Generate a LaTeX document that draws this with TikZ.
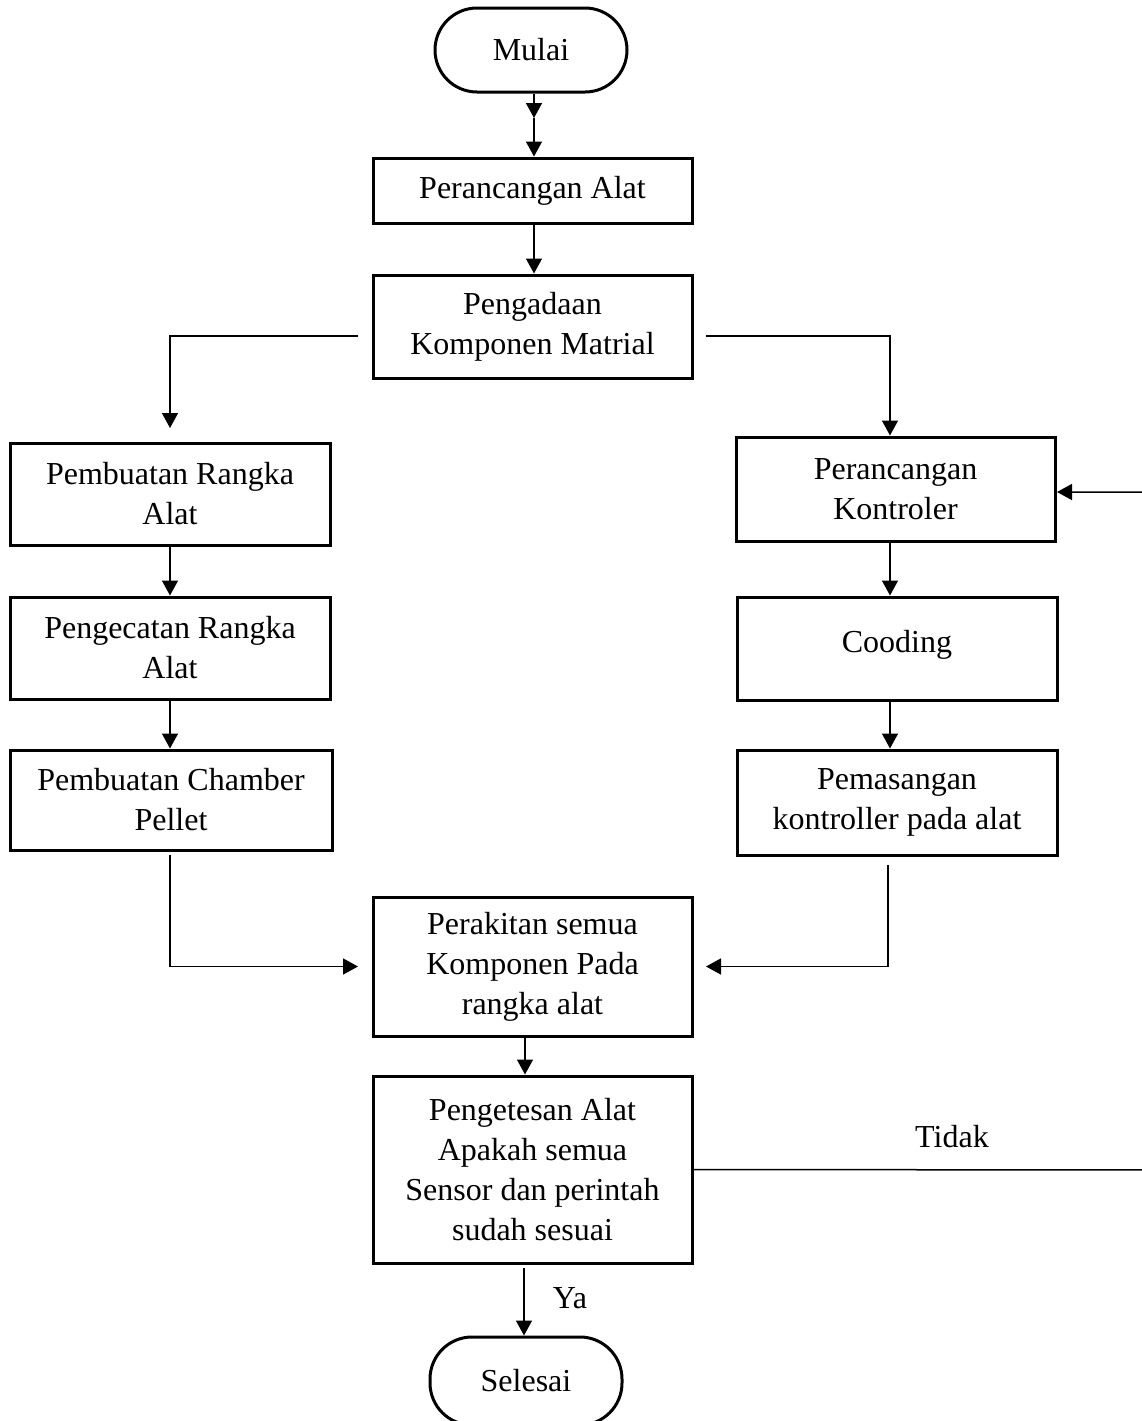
\documentclass[tikz,border=0pt]{standalone}
\usepackage{fontspec}
\setmainfont{Liberation Serif}
\usetikzlibrary{arrows.meta}
\begin{document}
\begin{tikzpicture}[x=0.5pt,y=-0.5pt,
 box/.style={draw,line width=1.5pt,align=center,inner sep=0pt,font=\fontsize{16}{20}\selectfont},
 term/.style={box,rounded corners=21pt},
 conn/.style={line width=0.75pt},
 arr/.style={conn,-{Triangle[width=8pt,length=7.5pt]}},
 lbl/.style={font=\fontsize{16}{20}\selectfont}]
\useasboundingbox (0,0) rectangle (1142,1421);
\clip (0,0) rectangle (1142,1421);
% nodes
\node[term,minimum width=96pt,minimum height=42pt] (mulai) at (531,50) {Mulai};
\node[box,minimum width=159.5pt,minimum height=32.5pt] (alat) at (532.5,190.5) {Perancangan Alat};
\node[box,minimum width=159.5pt,minimum height=51.5pt] (peng) at (532.5,326.5) {Pengadaan\\Komponen Matrial};
\node[box,minimum width=160pt,minimum height=51pt] (rangka) at (170,494) {Pembuatan Rangka\\Alat};
\node[box,minimum width=160pt,minimum height=51pt] (cat) at (170,648) {Pengecatan Rangka\\Alat};
\node[box,minimum width=161pt,minimum height=50pt] (chamber) at (171,800) {Pembuatan Chamber\\Pellet};
\node[box,minimum width=159.5pt,minimum height=52pt] (ktrl) at (895.5,489) {Perancangan\\Kontroler};
\node[box,minimum width=160pt,minimum height=51.5pt] (cood) at (897,648.5) {\raisebox{7pt}{Cooding}};
\node[box,minimum width=160pt,minimum height=52.5pt] (pasang) at (897,802.5) {Pemasangan\\kontroller pada alat};
\node[box,minimum width=159.5pt,minimum height=69.5pt] (rakit) at (532.5,966.5) {Perakitan semua\\Komponen Pada\\rangka alat};
\node[box,minimum width=159.5pt,minimum height=93.5pt] (tes) at (532.5,1169.5) {Pengetesan Alat\\Apakah semua\\Sensor dan perintah\\sudah sesuai};
\node[term,minimum width=96pt,minimum height=44pt] (selesai) at (526,1381) {Selesai};
\node[lbl] (tidak) at (952,1137) {Tidak};
\node[lbl] (ya) at (570,1298) {Ya};
% connectors
\coordinate (m1) at (534,118);
\draw[arr] (mulai.south -| m1) -- (m1);
\draw[arr] (m1) -- (alat.north -| m1);
\draw[arr] (alat.south -| 534,0) -- (peng.north -| 534,0);
\draw[arr] (358,336) -| (170,428);
\draw[arr] (706,336) -| (ktrl.north -| 890,0);
\draw[arr] (rangka) -- (cat);
\draw[arr] (cat) -- (chamber.north -| cat);
\draw[arr] (170,855) |- (rakit.west -| 358,0);
\draw[arr] (ktrl.south -| 890,0) -- (cood.north -| 890,0);
\draw[arr] (cood.south -| 890,0) -- (pasang.north -| 890,0);
\draw[arr] (888,865) |- (rakit.east -| 706,0);
\draw[arr] (rakit.south -| 525,0) -- (tes.north -| 525,0);
\draw[arr] (524,1268) -- (selesai.north -| 524,0);
\draw[arr] (tes.east) -- (1170,1170) |- (1057,492);
\end{tikzpicture}
\end{document}
